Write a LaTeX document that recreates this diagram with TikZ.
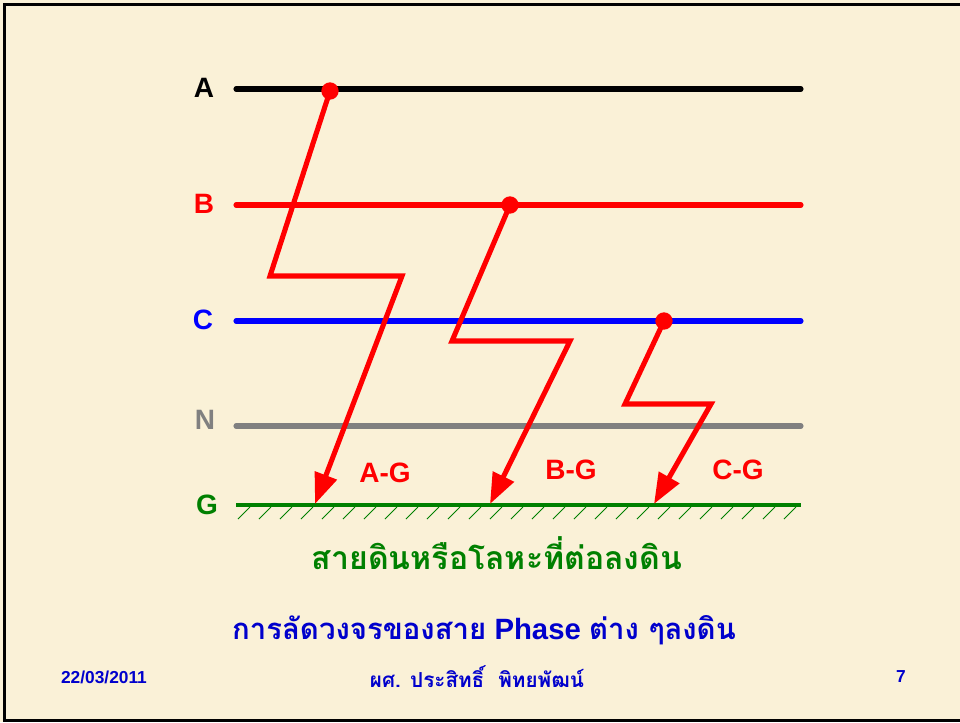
\documentclass[tikz,border=0pt]{standalone}
\usepackage{fontspec}
\setmainfont{Liberation Sans}
\newfontfamily\thaifont[Script=Thai]{Loma}
\usepackage{tikz}
\usetikzlibrary{arrows.meta, positioning, calc}
\definecolor{parch}{RGB}{250,241,215}
\definecolor{phblue}{RGB}{0,0,255}
\definecolor{phgray}{RGB}{128,128,128}
\definecolor{gndgreen}{RGB}{0,128,0}
\definecolor{ttlblue}{RGB}{0,0,204}
\definecolor{fltred}{RGB}{255,0,0}

\begin{document}
\begin{tikzpicture}[x=0.75pt, y=-0.75pt,
  phlbl/.style={font=\fontsize{21}{24}\selectfont\bfseries, inner sep=0pt},
  phase/.style={line width=3.8pt, line cap=round},
  dot/.style={circle, fill=fltred, inner sep=0pt, minimum size=13pt},
  zz/.style={draw=fltred, line width=3.8pt, line join=miter, -{Triangle[length=23pt, width=17pt]}},
  fltlbl/.style={font=\fontsize{21}{24}\selectfont\bfseries, text=fltred, inner sep=0pt},
  hatch/.style={draw=gndgreen, line width=0.6pt}
]
\fill[parch] (0,0) rectangle (960,722);
\useasboundingbox (0,0) rectangle (960,722);
\draw[line width=2.3pt] (980,4.5) -- (4.2,4.5) -- (4.2,720.5) -- (980,720.5);
% phase labels
\node[phlbl] (lA) at (204,88) {A};
\node[phlbl, text=fltred] (lB) at (204,204) {B};
\node[phlbl, text=phblue] (lC) at (203,320) {C};
\node[phlbl, text=phgray] (lN) at (205,420) {N};
\node[phlbl, text=gndgreen] (lG) at (207,505) {G};
\coordinate (a0) at (236,89);  \coordinate (a1) at (801,89);
\coordinate (b0) at (236,205); \coordinate (b1) at (801,205);
\coordinate (c0) at (236,321); \coordinate (c1) at (801,321);
\coordinate (n0) at (236,426); \coordinate (n1) at (801,426);
\coordinate (g0) at (236,505); \coordinate (g1) at (801,505);
\draw[phase, black] (a0) -- (a1);
\draw[phase, fltred] (b0) -- (b1);
\draw[phase, phblue] (c0) -- (c1);
\draw[phase, phgray] (n0) -- (n1);
\draw[gndgreen, line width=2.8pt] (g0) -- (g1);
\foreach \i in {0,...,26}
  \draw[hatch] ($(g0)+(\i*21+2,14)$) -- ++(12,-12);
% faults
\node[dot] (fa) at (330,91) {};
\node[dot] (fb) at (510,205) {};
\node[dot] (fc) at (664,321) {};
\coordinate (fa1) at (270,276); \coordinate (fa2) at (402,276); \coordinate (ta) at (315,504);
\coordinate (fb1) at (452,341); \coordinate (fb2) at (570,341); \coordinate (tb) at (490,504);
\coordinate (fc1) at (625,404); \coordinate (fc2) at (711,404); \coordinate (tc) at (654,504);
\draw[zz] (fa.center) -- (fa1) -- (fa2) -- (ta);
\draw[zz] (fb.center) -- (fb1) -- (fb2) -- (tb);
\draw[zz] (fc.center) -- (fc1) -- (fc2) -- (tc);
\node[fltlbl] (ag) at (385,473) {A-G};
\node[fltlbl] (bg) at (571,470) {B-G};
\node[fltlbl] (cg) at (738,470) {C-G};
% captions
\node[font=\thaifont\fontsize{24}{28}\selectfont\bfseries, text=gndgreen] (gnd) at (497,553) {สายดินหรือโลหะที่ต่อลงดิน};
\node[font=\fontsize{22}{26}\selectfont\bfseries, text=ttlblue] (ttl) at (484,630) {{\thaifont การลัดวงจรของสาย} Phase {\thaifont ต่าง ๆลงดิน}};
\node[font=\fontsize{13}{15}\selectfont\bfseries, text=ttlblue] (date) at (104,677) {22/03/2011};
\node[font=\thaifont\fontsize{15.5}{18}\selectfont\bfseries, text=ttlblue] (auth) at (477,677) {ผศ. ประสิทธิ์\ \ พิทยพัฒน์};
\node[font=\fontsize{13}{15}\selectfont\bfseries, text=ttlblue] (pg) at (901,677) {7};
\end{tikzpicture}
\end{document}
